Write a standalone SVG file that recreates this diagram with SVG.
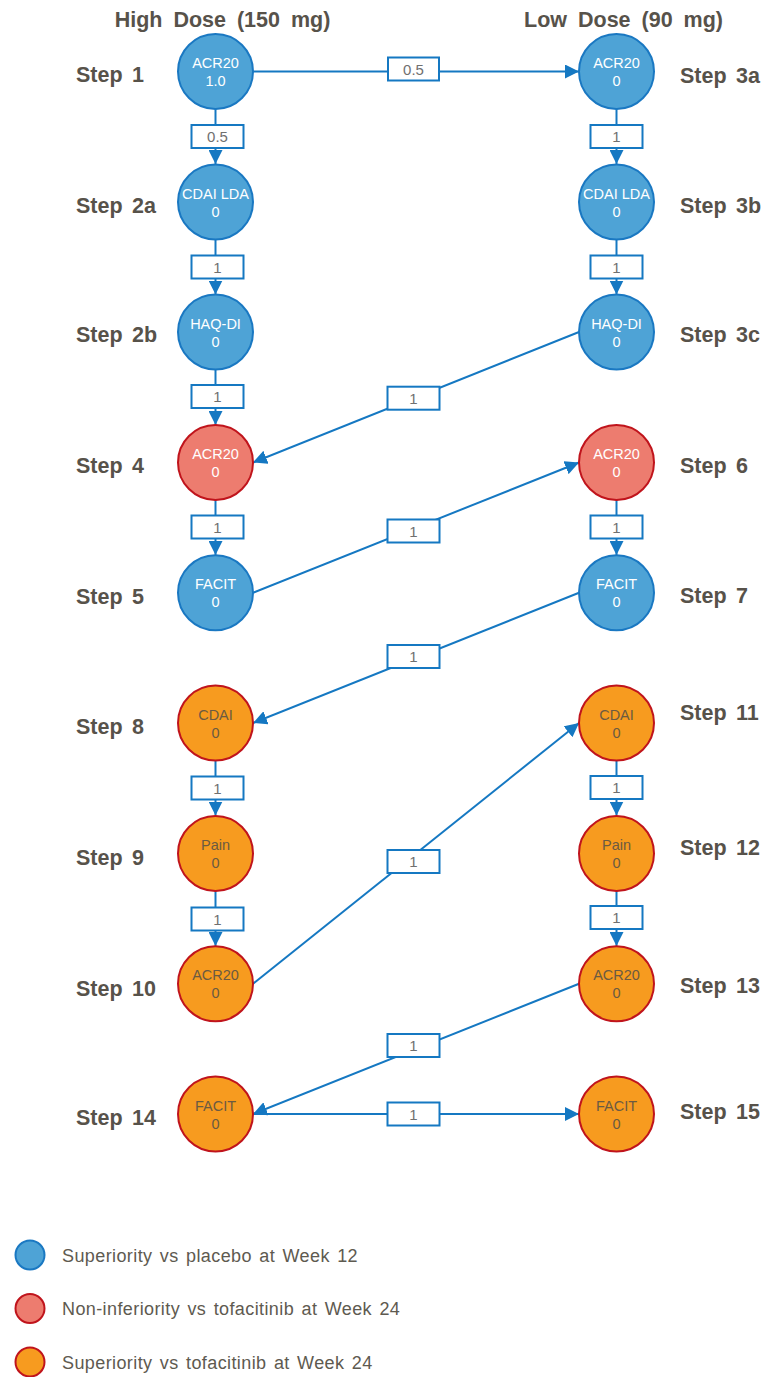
<svg xmlns="http://www.w3.org/2000/svg" width="766" height="1377" viewBox="0 0 766 1377">
<style>
.hdr{font-family:"Liberation Sans",Arial,sans-serif;font-weight:bold;font-size:21.5px;fill:#57524a;word-spacing:5px}
.step{font-family:"Liberation Sans",Arial,sans-serif;font-weight:bold;font-size:21.5px;fill:#57524a;word-spacing:3.5px}
.nt{font-family:"Liberation Sans",Arial,sans-serif;font-size:14.5px;text-anchor:middle}
.w{fill:#ffffff}
.o{fill:#6b5a42}
.blue{fill:#4ea3d6;stroke:#1a78c2;stroke-width:2}
.red{fill:#ed7c6f;stroke:#c0141c;stroke-width:2}
.orange{fill:#f79b1f;stroke:#c0141c;stroke-width:2}
.edge{stroke:#1578c2;stroke-width:2;fill:none;marker-end:url(#arr)}
.lb rect{fill:#ffffff;stroke:#1578c2;stroke-width:2}
.lb text{font-family:"Liberation Sans",Arial,sans-serif;font-size:15px;fill:#707070;text-anchor:middle}
.leg{font-family:"Liberation Sans",Arial,sans-serif;font-size:18px;fill:#5e5a50;letter-spacing:0.4px;word-spacing:2px}
</style>
<defs>
<marker id="arr" markerUnits="userSpaceOnUse" markerWidth="15" markerHeight="14" refX="14" refY="7" orient="auto">
<path d="M0,0 L14,7 L0,14 z" fill="#1578c2"/>
</marker>
</defs>
<rect width="766" height="1377" fill="#ffffff"/>
<text class="hdr" x="222.5" y="27" text-anchor="middle">High Dose (150 mg)</text>
<text class="hdr" x="623.5" y="27" text-anchor="middle">Low Dose (90 mg)</text>

<g id="step-labels">
<text class="step" x="76" y="82">Step 1</text>
<text class="step" x="76" y="213">Step 2a</text>
<text class="step" x="76" y="342">Step 2b</text>
<text class="step" x="76" y="473">Step 4</text>
<text class="step" x="76" y="604">Step 5</text>
<text class="step" x="76" y="734">Step 8</text>
<text class="step" x="76" y="865">Step 9</text>
<text class="step" x="76" y="996">Step 10</text>
<text class="step" x="76" y="1125">Step 14</text>
<text class="step" x="680" y="83">Step 3a</text>
<text class="step" x="680" y="213">Step 3b</text>
<text class="step" x="680" y="342">Step 3c</text>
<text class="step" x="680" y="473">Step 6</text>
<text class="step" x="680" y="603">Step 7</text>
<text class="step" x="680" y="720">Step 11</text>
<text class="step" x="680" y="855">Step 12</text>
<text class="step" x="680" y="993">Step 13</text>
<text class="step" x="680" y="1119">Step 15</text>
</g>

<g id="connectors">
<line class="edge" x1="253" y1="71.5" x2="579" y2="71.5"/>
<line class="edge" x1="215.5" y1="109" x2="215.5" y2="164"/>
<line class="edge" x1="215.5" y1="239.5" x2="215.5" y2="294.5"/>
<line class="edge" x1="215.5" y1="369.5" x2="215.5" y2="425"/>
<line class="edge" x1="616.5" y1="109" x2="616.5" y2="164"/>
<line class="edge" x1="616.5" y1="239.5" x2="616.5" y2="294.5"/>
<line class="edge" x1="579" y1="332" x2="253" y2="462.5"/>
<line class="edge" x1="215.5" y1="500" x2="215.5" y2="555"/>
<line class="edge" x1="253" y1="592.8" x2="579" y2="462.5"/>
<line class="edge" x1="616.5" y1="500" x2="616.5" y2="555"/>
<line class="edge" x1="579" y1="592.8" x2="253" y2="723"/>
<line class="edge" x1="215.5" y1="760.5" x2="215.5" y2="815.5"/>
<line class="edge" x1="215.5" y1="891" x2="215.5" y2="946"/>
<line class="edge" x1="253" y1="983.8" x2="579" y2="723"/>
<line class="edge" x1="616.5" y1="760.5" x2="616.5" y2="815.5"/>
<line class="edge" x1="616.5" y1="891" x2="616.5" y2="946"/>
<line class="edge" x1="579" y1="983.8" x2="253" y2="1114"/>
<line class="edge" x1="253" y1="1114" x2="579" y2="1114"/>
<g class="lb"><rect x="388" y="57.5" width="51" height="23"/><text x="413.5" y="74.5">0.5</text></g>
<g class="lb"><rect x="191.5" y="125" width="52" height="23"/><text x="217.5" y="142">0.5</text></g>
<g class="lb"><rect x="191.5" y="255.5" width="52" height="23"/><text x="217.5" y="272.5">1</text></g>
<g class="lb"><rect x="191.5" y="385" width="52" height="23"/><text x="217.5" y="402">1</text></g>
<g class="lb"><rect x="590.5" y="125" width="52" height="23"/><text x="616.5" y="142">1</text></g>
<g class="lb"><rect x="590.5" y="255.5" width="52" height="23"/><text x="616.5" y="272.5">1</text></g>
<g class="lb"><rect x="387.5" y="386.7" width="52" height="23"/><text x="413.5" y="403.7">1</text></g>
<g class="lb"><rect x="191.5" y="515.5" width="52" height="23"/><text x="217.5" y="532.5">1</text></g>
<g class="lb"><rect x="387.5" y="519.5" width="52" height="23"/><text x="413.5" y="536.5">1</text></g>
<g class="lb"><rect x="590.5" y="515.5" width="52" height="23"/><text x="616.5" y="532.5">1</text></g>
<g class="lb"><rect x="387.5" y="645" width="52" height="23"/><text x="413.5" y="662">1</text></g>
<g class="lb"><rect x="191.5" y="776.5" width="52" height="23"/><text x="217.5" y="793.5">1</text></g>
<g class="lb"><rect x="191.5" y="907.5" width="52" height="23"/><text x="217.5" y="924.5">1</text></g>
<g class="lb"><rect x="387.5" y="850" width="52" height="23"/><text x="413.5" y="867">1</text></g>
<g class="lb"><rect x="590.5" y="776" width="52" height="23"/><text x="616.5" y="793">1</text></g>
<g class="lb"><rect x="590.5" y="906" width="52" height="23"/><text x="616.5" y="923">1</text></g>
<g class="lb"><rect x="387.5" y="1034" width="52" height="23"/><text x="413.5" y="1051">1</text></g>
<g class="lb"><rect x="387.5" y="1102.5" width="52" height="23"/><text x="413.5" y="1119.5">1</text></g>
</g>

<g id="n1"><circle class="blue" cx="215.5" cy="71.5" r="37.5"/><text class="nt w" x="215.5" y="68">ACR20</text><text class="nt w" x="215.5" y="86">1.0</text></g>
<g id="n2a"><circle class="blue" cx="215.5" cy="202" r="37.5"/><text class="nt w" x="215.5" y="198.5">CDAI LDA</text><text class="nt w" x="215.5" y="216.5">0</text></g>
<g id="n2b"><circle class="blue" cx="215.5" cy="332" r="37.5"/><text class="nt w" x="215.5" y="328.5">HAQ-DI</text><text class="nt w" x="215.5" y="346.5">0</text></g>
<g id="n4"><circle class="red" cx="215.5" cy="462.5" r="37.5"/><text class="nt w" x="215.5" y="459">ACR20</text><text class="nt w" x="215.5" y="477">0</text></g>
<g id="n5"><circle class="blue" cx="215.5" cy="592.8" r="37.5"/><text class="nt w" x="215.5" y="589.3">FACIT</text><text class="nt w" x="215.5" y="607.3">0</text></g>
<g id="n8"><circle class="orange" cx="215.5" cy="723" r="37.5"/><text class="nt o" x="215.5" y="719.5">CDAI</text><text class="nt o" x="215.5" y="737.5">0</text></g>
<g id="n9"><circle class="orange" cx="215.5" cy="853.5" r="37.5"/><text class="nt o" x="215.5" y="850">Pain</text><text class="nt o" x="215.5" y="868">0</text></g>
<g id="n10"><circle class="orange" cx="215.5" cy="983.8" r="37.5"/><text class="nt o" x="215.5" y="980.3">ACR20</text><text class="nt o" x="215.5" y="998.3">0</text></g>
<g id="n14"><circle class="orange" cx="215.5" cy="1114" r="37.5"/><text class="nt o" x="215.5" y="1110.5">FACIT</text><text class="nt o" x="215.5" y="1128.5">0</text></g>

<g id="n3a"><circle class="blue" cx="616.5" cy="71.5" r="37.5"/><text class="nt w" x="616.5" y="68">ACR20</text><text class="nt w" x="616.5" y="86">0</text></g>
<g id="n3b"><circle class="blue" cx="616.5" cy="202" r="37.5"/><text class="nt w" x="616.5" y="198.5">CDAI LDA</text><text class="nt w" x="616.5" y="216.5">0</text></g>
<g id="n3c"><circle class="blue" cx="616.5" cy="332" r="37.5"/><text class="nt w" x="616.5" y="328.5">HAQ-DI</text><text class="nt w" x="616.5" y="346.5">0</text></g>
<g id="n6"><circle class="red" cx="616.5" cy="462.5" r="37.5"/><text class="nt w" x="616.5" y="459">ACR20</text><text class="nt w" x="616.5" y="477">0</text></g>
<g id="n7"><circle class="blue" cx="616.5" cy="592.8" r="37.5"/><text class="nt w" x="616.5" y="589.3">FACIT</text><text class="nt w" x="616.5" y="607.3">0</text></g>
<g id="n11"><circle class="orange" cx="616.5" cy="723" r="37.5"/><text class="nt o" x="616.5" y="719.5">CDAI</text><text class="nt o" x="616.5" y="737.5">0</text></g>
<g id="n12"><circle class="orange" cx="616.5" cy="853.5" r="37.5"/><text class="nt o" x="616.5" y="850">Pain</text><text class="nt o" x="616.5" y="868">0</text></g>
<g id="n13"><circle class="orange" cx="616.5" cy="983.8" r="37.5"/><text class="nt o" x="616.5" y="980.3">ACR20</text><text class="nt o" x="616.5" y="998.3">0</text></g>
<g id="n15"><circle class="orange" cx="616.5" cy="1114" r="37.5"/><text class="nt o" x="616.5" y="1110.5">FACIT</text><text class="nt o" x="616.5" y="1128.5">0</text></g>

<g id="legend">
<circle class="blue" cx="30" cy="1255" r="14.5"/>
<text class="leg" x="62" y="1261.5">Superiority vs placebo at Week 12</text>
<circle class="red" cx="30" cy="1308.5" r="14.5"/>
<text class="leg" x="62" y="1315">Non-inferiority vs tofacitinib at Week 24</text>
<circle class="orange" cx="30" cy="1362" r="14.5"/>
<text class="leg" x="62" y="1368.5">Superiority vs tofacitinib at Week 24</text>
</g>
</svg>
